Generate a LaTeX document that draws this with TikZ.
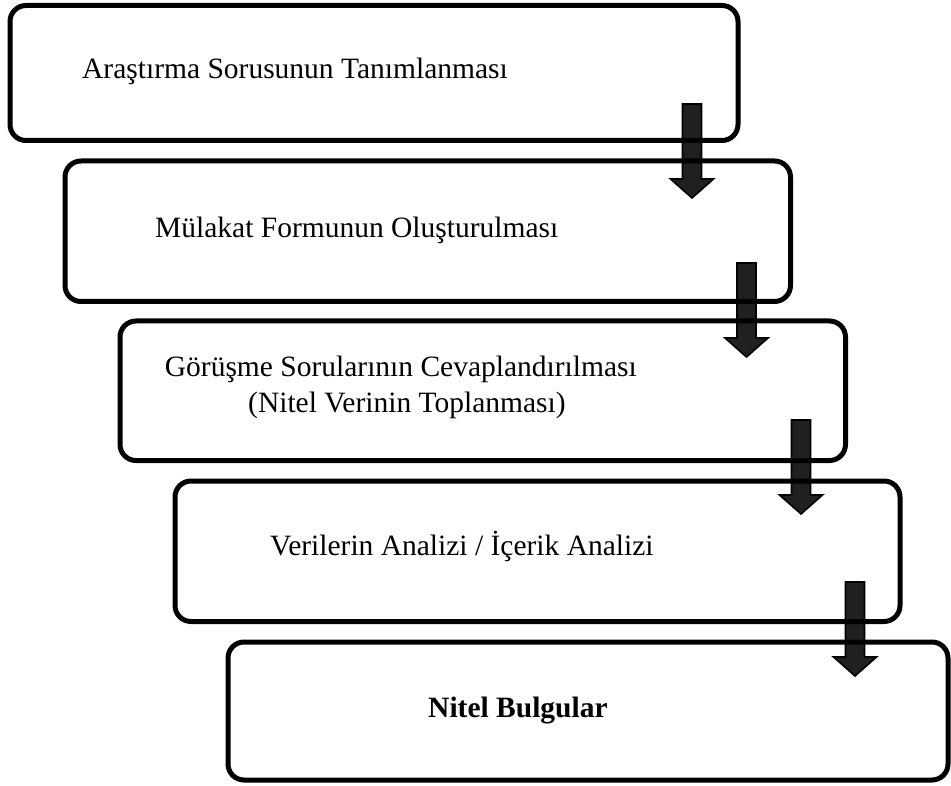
\documentclass[tikz,border=0pt]{standalone}
\usepackage{fontspec}
\setmainfont{Liberation Serif}
\begin{document}
\begin{tikzpicture}[x=1pt,y=-1pt,
  box/.style={draw=black, line width=5pt, rounded corners=16pt, rectangle, inner sep=0pt},
  lbl/.style={font=\fontsize{29.5}{35}\selectfont, inner sep=0pt},
  arrowstyle/.style={fill={rgb,255:red,32;green,32;blue,32}, draw=black, line width=1.6pt, line join=miter},
  darrow/.pic={\draw[arrowstyle] (-9.5,0) -- (9.5,0) -- (9.5,75) -- (21.5,75) -- (0,94) -- (-21.5,75) -- (-9.5,75) -- cycle;}]
\useasboundingbox (0,0) rectangle (951,786);
% arrows (drawn first, box borders pass over them)
\coordinate (a1) at (692,104);
\coordinate (a2) at (746.5,263);
\coordinate (a3) at (801,420);
\coordinate (a4) at (855,582);
\pic at (a1) {darrow};
\pic at (a2) {darrow};
\pic at (a3) {darrow};
\pic at (a4) {darrow};
% boxes
\node[box, minimum width=728pt, minimum height=135pt] (b1) at (374,73) {};
\node[box, minimum width=725.5pt, minimum height=140.5pt] (b2) at (427.75,231.25) {};
\node[box, minimum width=725.5pt, minimum height=139.5pt] (b3) at (482.75,390.75) {};
\node[box, minimum width=725pt, minimum height=140.5pt] (b4) at (537.5,551.25) {};
\node[box, minimum width=720pt, minimum height=138pt] (b5) at (588,711) {};
% texts
\node[lbl, anchor=base west] (t1) at (82,79) {Araştırma Sorusunun Tanımlanması};
\node[lbl, anchor=base west] (t2) at (155,238) {Mülakat Formunun Oluşturulması};
\node[lbl, anchor=base east] (t3a) at (637,377) {Görüşme Sorularının Cevaplandırılması};
\node[lbl, anchor=base west] (t3b) at (248,413) {(Nitel Verinin Toplanması)};
\node[lbl, anchor=base west] (t4) at (270,555) {Verilerin Analizi / İçerik Analizi};
\node[lbl, anchor=base west, font=\fontsize{29.5}{35}\selectfont\bfseries] (t5) at (428,717) {Nitel Bulgular};
\end{tikzpicture}
\end{document}
